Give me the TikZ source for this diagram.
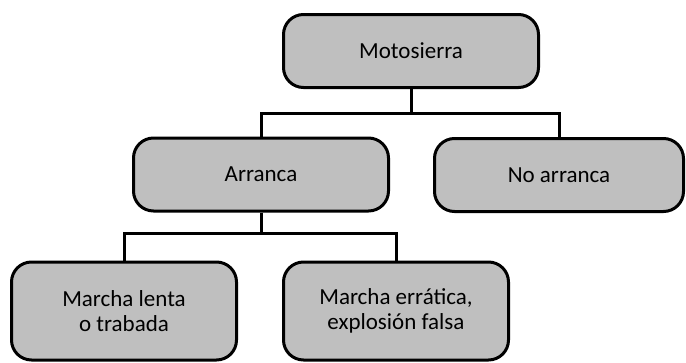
\documentclass[tikz,border=0pt]{standalone}
\usepackage{fontspec}
\setmainfont{Carlito}
\usepackage{tikz}
\usetikzlibrary{positioning}
\definecolor{boxgray}{RGB}{191,191,191}

\begin{document}
\begin{tikzpicture}[x=1pt, y=1pt, every node/.style={font=\fontsize{23}{25}\selectfont}, box/.style={draw,line width=3pt,fill=boxgray,rounded corners=20pt,align=center,minimum width=255pt,minimum height=73pt}, lowbox/.style={box,minimum width=225pt,minimum height=98pt}, conn/.style={line width=3pt}]
\useasboundingbox (0,0) rectangle (686,-362);
\node[box] (moto) at (411,-51) {Motosierra};
\node[box] (arr) at (261,-174.5) {Arranca};
\node[box,minimum width=249pt] (noarr) at (559,-175) {No arranca};
\node[lowbox] (lenta) at (124,-311) {Marcha lenta\\o trabada};
\node[lowbox] (errat) at (396,-311) {Marcha errática,\\explosión falsa};
\draw[conn] (moto.south) -- ++(0,-24) -| (arr.north);
\draw[conn] (moto.south) -- ++(0,-24) -| (noarr.north);
\draw[conn] (arr.south) -- ++(0,-21) -| (lenta.north);
\draw[conn] (arr.south) -- ++(0,-21) -| (errat.north);
\end{tikzpicture}
\end{document}
